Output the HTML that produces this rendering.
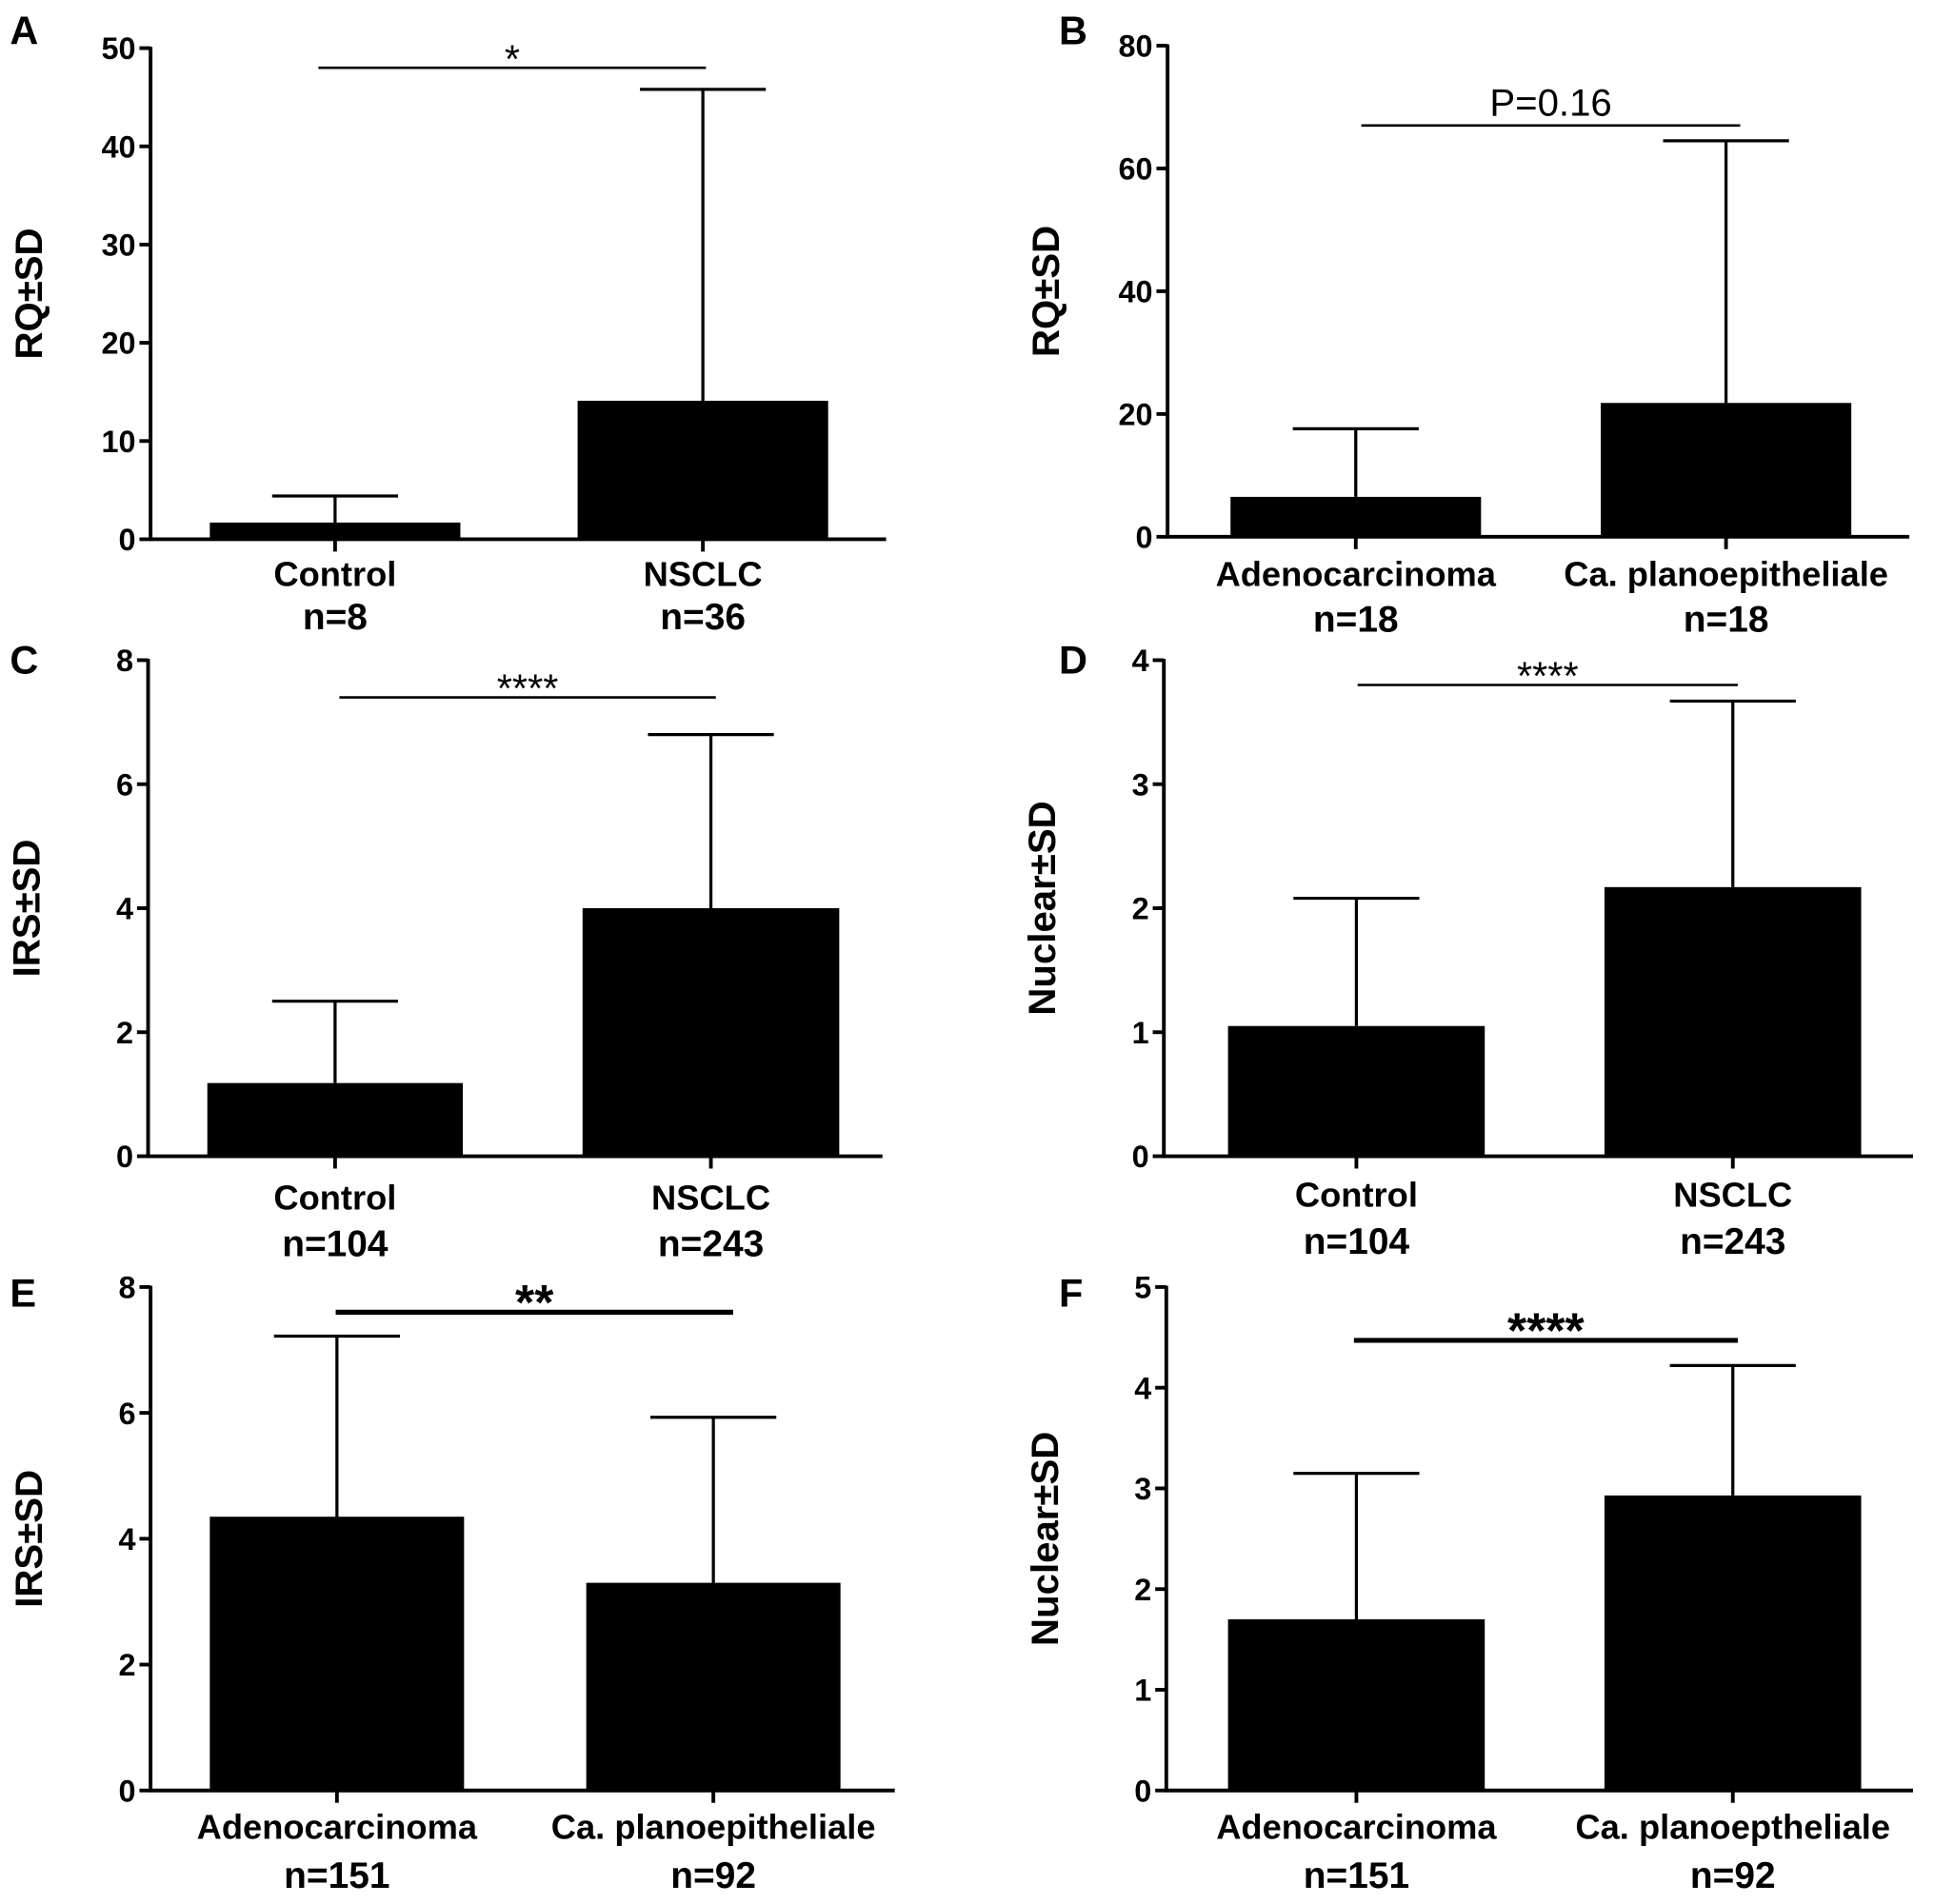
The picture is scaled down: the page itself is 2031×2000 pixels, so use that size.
<!DOCTYPE html>
<html><head><meta charset="utf-8"><style>
html,body{margin:0;padding:0;background:#fff;}
svg{display:block;font-family:"Liberation Sans",Arial,sans-serif;}
</style></head><body>
<svg id="fig" width="2031" height="2000" viewBox="0 0 1567 1543" preserveAspectRatio="none" xmlns="http://www.w3.org/2000/svg"></svg>
<script>
// ---- data ----
const catsA = ["Control", "NSCLC"];
const nA = ["n=8", "n=36"];
const valsA = [1.7, 14.1];
const errsA = [4.4, 45.8];
const ticksA = [0, 10, 20, 30, 40, 50];

const catsB = ["Adenocarcinoma", "Ca. planoepitheliale"];
const nB = ["n=18", "n=18"];
const valsB = [6.5, 21.8];
const errsB = [17.6, 64.5];
const ticksB = [0, 20, 40, 60, 80];

const catsC = ["Control", "NSCLC"];
const nC = ["n=104", "n=243"];
const valsC = [1.18, 4.0];
const errsC = [2.5, 6.8];
const ticksC = [0, 2, 4, 6, 8];

const catsD = ["Control", "NSCLC"];
const nD = ["n=104", "n=243"];
const valsD = [1.05, 2.17];
const errsD = [2.08, 3.67];
const ticksD = [0, 1, 2, 3, 4];

const catsE = ["Adenocarcinoma", "Ca. planoepitheliale"];
const nE = ["n=151", "n=92"];
const valsE = [4.35, 3.3];
const errsE = [7.22, 5.93];
const ticksE = [0, 2, 4, 6, 8];

const catsF = ["Adenocarcinoma", "Ca. planoeptheliale"];
const nF = ["n=151", "n=92"];
const valsF = [1.7, 2.93];
const errsF = [3.15, 4.22];
const ticksF = [0, 1, 2, 3, 4, 5];

const sigLabels = ["*", "P=0.16", "****", "****", "**", "****"];
const sigValues = [48, 67, 7.4, 3.8, 7.6, 4.47];

// ---- layout ----
const panels = [
 {id:"a", letter:"A", lx:8, ly:36, title:"RQ±SD", ax:122, top:39, zero:437, right:718, bars:[[170,373],[468,671]], cats:catsA, ns:nA, vals:valsA, errs:errsA, ticks:ticksA, sig:[258,572], sigW:2, sigFs:32, sigBold:false, catY:[475,510]},
 {id:"b", letter:"B", lx:858, ly:36, title:"RQ±SD", ax:946, top:37, zero:435, right:1547, bars:[[997,1200],[1297,1500]], cats:catsB, ns:nB, vals:valsB, errs:errsB, ticks:ticksB, sig:[1103,1410], sigW:2, sigFs:31, sigBold:false, catY:[475,512]},
 {id:"c", letter:"C", lx:8, ly:546, title:"IRS±SD", ax:120, top:535, zero:937, right:715, bars:[[168,375],[472,680]], cats:catsC, ns:nC, vals:valsC, errs:errsC, ticks:ticksC, sig:[275,580], sigW:2, sigFs:32, sigBold:false, catY:[980,1018]},
 {id:"d", letter:"D", lx:858, ly:546, title:"Nuclear±SD", ax:943, top:535, zero:937, right:1550, bars:[[995,1203],[1300,1508]], cats:catsD, ns:nD, vals:valsD, errs:errsD, ticks:ticksD, sig:[1100,1408], sigW:2, sigFs:32, sigBold:false, catY:[978,1016]},
 {id:"e", letter:"E", lx:8, ly:1059, title:"IRS±SD", ax:122, top:1043, zero:1451, right:725, bars:[[170,376],[475,681]], cats:catsE, ns:nE, vals:valsE, errs:errsE, ticks:ticksE, sig:[272,594], sigW:4, sigFs:40, sigBold:true, catY:[1490,1530]},
 {id:"f", letter:"F", lx:858, ly:1059, title:"Nuclear±SD", ax:945, top:1043, zero:1451, right:1550, bars:[[995,1203],[1300,1508]], cats:catsF, ns:nF, vals:valsF, errs:errsF, ticks:ticksF, sig:[1097,1408], sigW:4, sigFs:40, sigBold:true, catY:[1490,1530]}
];

const NS = "http://www.w3.org/2000/svg";
const svg = document.getElementById("fig");
function mk(tag, attrs, parent){
  const e = document.createElementNS(NS, tag);
  for (const k in attrs) e.setAttribute(k, attrs[k]);
  (parent||svg).appendChild(e);
  return e;
}

panels.forEach((p, pi) => {
  const g = mk("g", {});
  
  
  const ymax = p.ticks[p.ticks.length-1];
  const y = v => p.zero - (v / ymax) * (p.zero - p.top);

  const letter = mk("text", {x:p.lx, y:p.ly, "font-size":32, "font-weight":"bold"}, g);
  letter.textContent = p.letter;
  
  

  const cy = (p.top + p.zero)/2;
  const yt = mk("text", {x:0, y:0, "font-size":31, "font-weight":"bold", "text-anchor":"middle", transform:`translate(${p.ax-88},${cy}) rotate(-90)`}, g);
  yt.textContent = p.title;
  
  

  const yAxis = mk("line", {x1:p.ax, y1:p.top-1, x2:p.ax, y2:p.zero+1, stroke:"#000", "stroke-width":3}, g);
  
  
  p.ticks.forEach(t => {
    const ty = y(t);
    const tk = mk("line", {x1:p.ax-9, y1:ty, x2:p.ax, y2:ty, stroke:"#000", "stroke-width":3}, g);
    
    
    const tl = mk("text", {x:p.ax-12, y:ty+9, "font-size":25, "font-weight":"bold", "text-anchor":"end"}, g);
    tl.textContent = t;
    
    
  });

  p.vals.forEach((v, i) => {
    const [x0, x1] = p.bars[i];
    const cx = (x0 + x1)/2;
    const eb = mk("line", {x1:cx, y1:y(v), x2:cx, y2:y(p.errs[i]), stroke:"#000", "stroke-width":2.5}, g);
    
    
    const cap = mk("line", {x1:cx-51, y1:y(p.errs[i]), x2:cx+51, y2:y(p.errs[i]), stroke:"#000", "stroke-width":2.5}, g);
    
    
    const r = mk("rect", {x:x0, y:y(v), width:x1-x0, height:p.zero-y(v), fill:"#000"}, g);
    
    
    const xt = mk("line", {x1:cx, y1:p.zero, x2:cx, y2:p.zero+10, stroke:"#000", "stroke-width":3}, g);
    
    
    const cl = mk("text", {x:cx, y:p.catY[0], "font-size":28, "font-weight":"bold", "text-anchor":"middle"}, g);
    cl.textContent = p.cats[i];
    
    
    const nl = mk("text", {x:cx, y:p.catY[1], "font-size":30, "font-weight":"bold", "text-anchor":"middle"}, g);
    nl.textContent = p.ns[i];
    
    
  });

  const xAxis = mk("line", {x1:p.ax-1, y1:p.zero, x2:p.right, y2:p.zero, stroke:"#000", "stroke-width":3}, g);
  
  

  const sy = y(sigValues[pi]);
  const sl = mk("line", {x1:p.sig[0], y1:sy, x2:p.sig[1], y2:sy, stroke:"#000", "stroke-width":p.sigW}, g);
  
  
  const isStar = sigLabels[pi].indexOf("*") === 0;
  const st = mk("text", {x:(p.sig[0]+p.sig[1])/2, y: isStar ? sy + (p.sigBold ? 6 : 4) : sy - 8, "font-size":p.sigFs, "font-weight":p.sigBold?"bold":"normal", "text-anchor":"middle"}, g);
  st.textContent = sigLabels[pi];
  
  
});
</script>
</body></html>
